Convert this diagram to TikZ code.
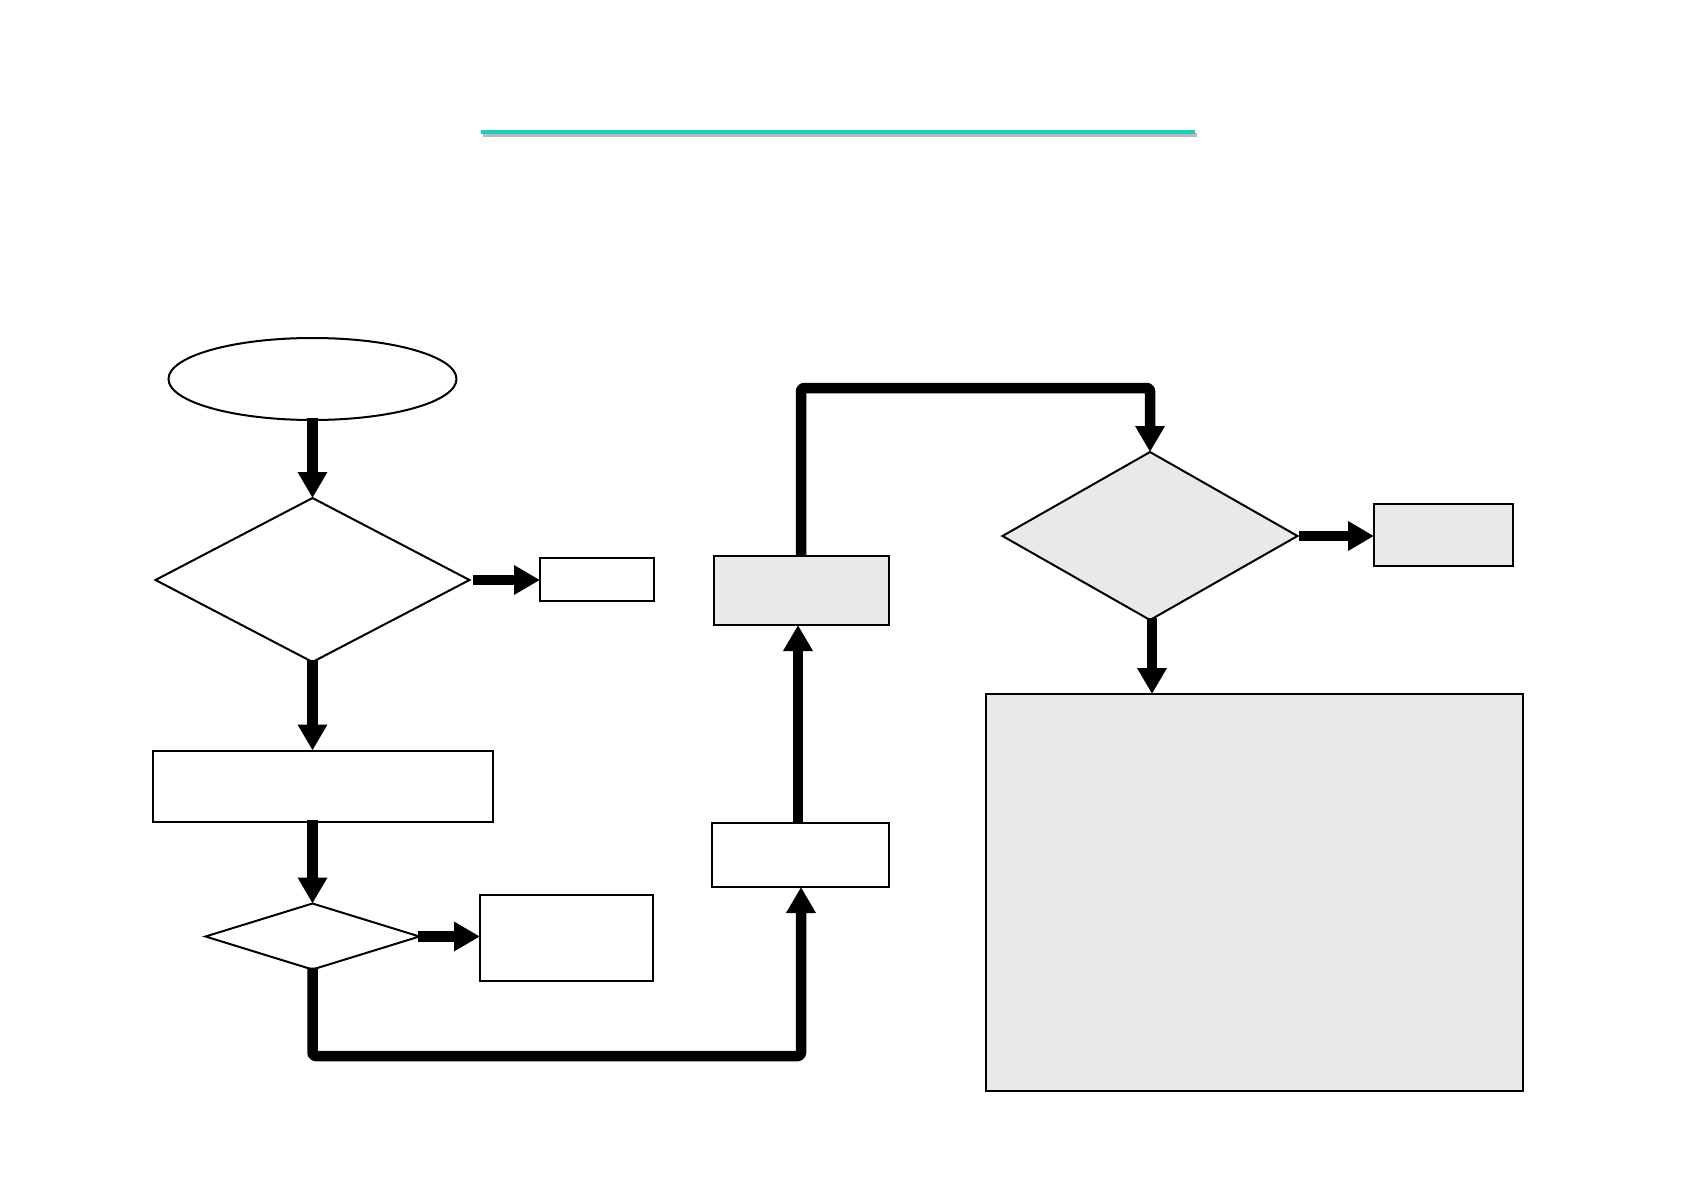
\documentclass[tikz,border=0pt]{standalone}
\usetikzlibrary{shapes.geometric,arrows.meta}
\definecolor{boxgray}{HTML}{E9E9E9}
\definecolor{teal}{RGB}{24,206,188}
\tikzset{
  outl/.style={draw=black,line width=2pt,inner sep=0pt,outer sep=0pt},
  rectbox/.style={outl,rectangle},
  dia/.style={outl,diamond},
  conn/.style={line width=10.5pt,-{Triangle[width=28pt,length=26pt]}},
  flowl/.style={line width=10.5pt,line join=round,rounded corners=3pt,-{Triangle[width=28pt,length=26pt]}}
}
\begin{document}
\begin{tikzpicture}[x=1pt,y=-1pt]
\useasboundingbox (0,0) rectangle (1684,1190);
% title rule
\draw[line width=4pt,draw=gray!55] (483,135) -- (1197,135);
\draw[line width=4pt,draw=teal] (481,132.5) -- (1195,132.5);
% shapes
\node[outl,ellipse,minimum width=288pt,minimum height=82pt] (start) at (312.5,379) {};
\node[dia,minimum width=314pt,minimum height=164pt] (d1) at (312.5,580) {};
\node[rectbox,minimum width=114pt,minimum height=43pt] (b1) at (597,579) {};
\node[rectbox,minimum width=340pt,minimum height=71pt] (b2) at (323,786) {};
\node[dia,minimum width=214pt,minimum height=66pt] (d2) at (312.5,936.5) {};
\node[rectbox,minimum width=173pt,minimum height=86pt] (b3) at (566.5,938) {};
\node[rectbox,minimum width=177pt,minimum height=64pt] (b4) at (800.5,855) {};
\node[rectbox,fill=boxgray,minimum width=175pt,minimum height=69pt] (b5) at (801.5,590.5) {};
\node[dia,fill=boxgray,minimum width=295pt,minimum height=168pt] (d3) at (1150,536) {};
\node[rectbox,fill=boxgray,minimum width=139pt,minimum height=62pt] (b6) at (1443.5,535) {};
\node[rectbox,fill=boxgray,line width=2.5pt,minimum width=537pt,minimum height=397pt] (big) at (1254.5,892.5) {};
% helper coordinates
\coordinate (c1) at (312.5,1056);
\coordinate (c2) at (801,1056);
\coordinate (c3) at (801,388);
\coordinate (c4) at (1150,388);
\coordinate (v) at (798,700);
% connectors
\draw[conn] ([yshift=2pt]start.south) -- (d1.north);
\draw[conn] ([xshift=3pt]d1.east) -- (b1.west |- d1.east);
\draw[conn] ([yshift=2pt]d1.south) -- (b2.north -| d1.south);
\draw[conn] ([yshift=2pt]b2.south -| d2.north) -- (d2.north);
\draw[conn] ([xshift=-2pt]d2.east) -- (b3.west |- d2.east);
\draw[flowl] ([yshift=2pt]d2.south) -- (c1) -- (c2) -- (b4.south -| c2);
\draw[conn] ([yshift=-1pt]b4.north -| v) -- (b5.south -| v);
\draw[flowl] (b5.north -| c3) -- (c3) -- (c4) -- (d3.north);
\draw[conn] ([xshift=1pt]d3.east) -- (b6.west |- d3.east);
\draw[conn] ([xshift=2pt,yshift=2pt]d3.south) -- ([xshift=2pt]big.north -| d3.south);
\end{tikzpicture}
\end{document}
